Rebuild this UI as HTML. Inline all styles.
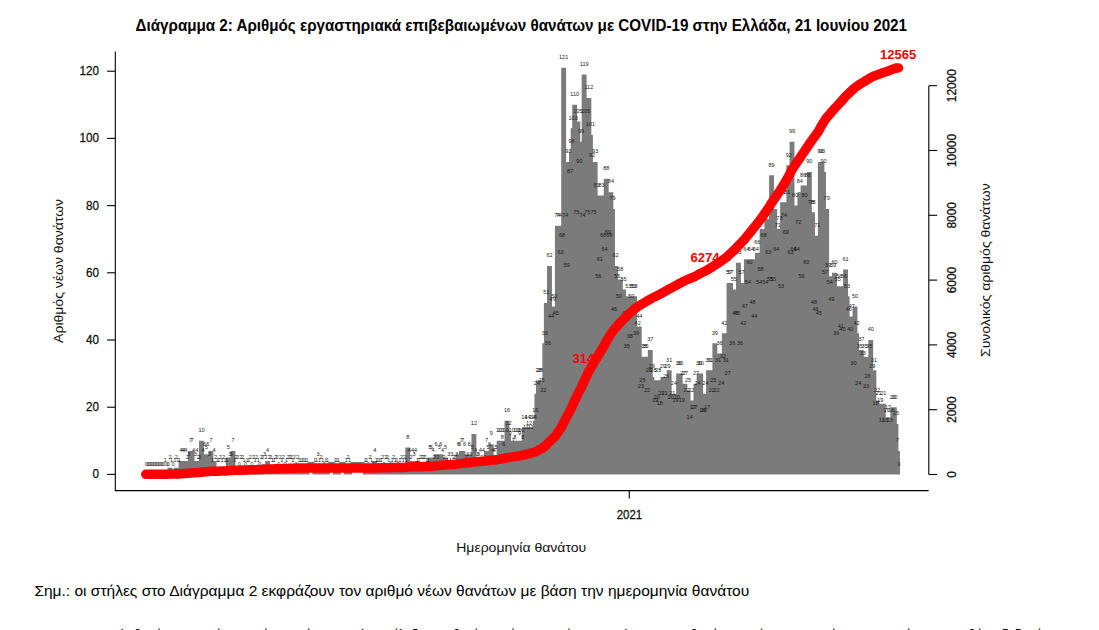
<!DOCTYPE html><html><head><meta charset="utf-8"><title>Διάγραμμα 2</title><style>html,body{margin:0;padding:0;background:#fff;}svg{display:block;}text{font-family:"Liberation Sans", "DejaVu Sans", sans-serif;}</style></head><body><svg width="1099" height="630" viewBox="0 0 1099 630"><rect width="1099" height="630" fill="#fff"/><text x="135.6" y="30.9" font-size="16" font-weight="bold" fill="#000" textLength="771.4" lengthAdjust="spacingAndGlyphs">Διάγραμμα 2: Αριθμός εργαστηριακά επιβεβαιωμένων θανάτων με COVID-19 στην Ελλάδα, 21 Ιουνίου 2021</text><path fill="#7b7b7b" d="M162.80 471.04h4.90v3.36h-4.90zM167.52 467.68h4.90v6.72h-4.90zM169.10 471.04h4.90v3.36h-4.90zM172.25 471.04h4.90v3.36h-4.90zM173.82 467.68h4.90v6.72h-4.90zM175.40 471.04h4.90v3.36h-4.90zM176.97 471.04h4.90v3.36h-4.90zM178.55 460.96h4.90v13.44h-4.90zM180.12 460.96h4.90v13.44h-4.90zM181.69 460.96h4.90v13.44h-4.90zM183.27 460.96h4.90v13.44h-4.90zM184.84 467.68h4.90v6.72h-4.90zM186.42 464.32h4.90v10.08h-4.90zM187.99 450.88h4.90v23.52h-4.90zM189.57 450.88h4.90v23.52h-4.90zM191.14 460.96h4.90v13.44h-4.90zM192.72 464.32h4.90v10.08h-4.90zM194.29 460.96h4.90v13.44h-4.90zM195.87 467.68h4.90v6.72h-4.90zM197.44 467.68h4.90v6.72h-4.90zM199.02 440.80h4.90v33.60h-4.90zM200.59 460.96h4.90v13.44h-4.90zM202.17 454.24h4.90v20.16h-4.90zM203.74 457.60h4.90v16.80h-4.90zM205.32 454.24h4.90v20.16h-4.90zM206.89 464.32h4.90v10.08h-4.90zM208.47 450.88h4.90v23.52h-4.90zM210.04 471.04h4.90v3.36h-4.90zM211.62 460.96h4.90v13.44h-4.90zM213.19 467.68h4.90v6.72h-4.90zM214.77 471.04h4.90v3.36h-4.90zM216.34 471.04h4.90v3.36h-4.90zM217.92 467.68h4.90v6.72h-4.90zM219.49 471.04h4.90v3.36h-4.90zM221.06 467.68h4.90v6.72h-4.90zM222.64 471.04h4.90v3.36h-4.90zM224.21 471.04h4.90v3.36h-4.90zM225.79 457.60h4.90v16.80h-4.90zM227.36 464.32h4.90v10.08h-4.90zM228.94 464.32h4.90v10.08h-4.90zM230.51 450.88h4.90v23.52h-4.90zM232.09 471.04h4.90v3.36h-4.90zM233.66 467.68h4.90v6.72h-4.90zM235.24 467.68h4.90v6.72h-4.90zM238.39 467.68h4.90v6.72h-4.90zM239.96 467.68h4.90v6.72h-4.90zM241.54 471.04h4.90v3.36h-4.90zM244.69 471.04h4.90v3.36h-4.90zM246.26 471.04h4.90v3.36h-4.90zM247.84 467.68h4.90v6.72h-4.90zM250.99 467.68h4.90v6.72h-4.90zM252.56 471.04h4.90v3.36h-4.90zM254.14 467.68h4.90v6.72h-4.90zM255.71 471.04h4.90v3.36h-4.90zM258.86 467.68h4.90v6.72h-4.90zM260.43 467.68h4.90v6.72h-4.90zM262.01 464.32h4.90v10.08h-4.90zM263.58 467.68h4.90v6.72h-4.90zM265.16 460.96h4.90v13.44h-4.90zM266.73 467.68h4.90v6.72h-4.90zM268.31 467.68h4.90v6.72h-4.90zM269.88 471.04h4.90v3.36h-4.90zM271.46 471.04h4.90v3.36h-4.90zM273.03 467.68h4.90v6.72h-4.90zM274.61 467.68h4.90v6.72h-4.90zM277.76 467.68h4.90v6.72h-4.90zM279.33 471.04h4.90v3.36h-4.90zM280.91 467.68h4.90v6.72h-4.90zM284.06 471.04h4.90v3.36h-4.90zM285.63 467.68h4.90v6.72h-4.90zM287.21 467.68h4.90v6.72h-4.90zM288.78 467.68h4.90v6.72h-4.90zM290.36 471.04h4.90v3.36h-4.90zM291.93 467.68h4.90v6.72h-4.90zM295.08 467.68h4.90v6.72h-4.90zM296.65 471.04h4.90v3.36h-4.90zM298.23 471.04h4.90v3.36h-4.90zM299.80 471.04h4.90v3.36h-4.90zM301.38 471.04h4.90v3.36h-4.90zM302.95 471.04h4.90v3.36h-4.90zM304.53 471.04h4.90v3.36h-4.90zM312.40 471.04h4.90v3.36h-4.90zM313.98 471.04h4.90v3.36h-4.90zM315.55 464.32h4.90v10.08h-4.90zM317.13 471.04h4.90v3.36h-4.90zM318.70 467.68h4.90v6.72h-4.90zM320.28 471.04h4.90v3.36h-4.90zM323.43 471.04h4.90v3.36h-4.90zM325.00 471.04h4.90v3.36h-4.90zM332.87 471.04h4.90v3.36h-4.90zM334.45 471.04h4.90v3.36h-4.90zM336.02 471.04h4.90v3.36h-4.90zM343.90 471.04h4.90v3.36h-4.90zM345.47 467.68h4.90v6.72h-4.90zM347.05 471.04h4.90v3.36h-4.90zM362.80 471.04h4.90v3.36h-4.90zM364.37 471.04h4.90v3.36h-4.90zM367.52 467.68h4.90v6.72h-4.90zM369.10 471.04h4.90v3.36h-4.90zM372.24 460.96h4.90v13.44h-4.90zM373.82 471.04h4.90v3.36h-4.90zM375.39 471.04h4.90v3.36h-4.90zM376.97 471.04h4.90v3.36h-4.90zM378.54 471.04h4.90v3.36h-4.90zM380.12 467.68h4.90v6.72h-4.90zM383.27 467.68h4.90v6.72h-4.90zM384.84 467.68h4.90v6.72h-4.90zM386.42 471.04h4.90v3.36h-4.90zM389.57 471.04h4.90v3.36h-4.90zM391.14 467.68h4.90v6.72h-4.90zM392.72 471.04h4.90v3.36h-4.90zM394.29 471.04h4.90v3.36h-4.90zM397.44 471.04h4.90v3.36h-4.90zM399.02 467.68h4.90v6.72h-4.90zM400.59 471.04h4.90v3.36h-4.90zM402.17 467.68h4.90v6.72h-4.90zM403.74 471.04h4.90v3.36h-4.90zM405.32 447.52h4.90v26.88h-4.90zM406.89 460.96h4.90v13.44h-4.90zM408.46 467.68h4.90v6.72h-4.90zM410.04 460.96h4.90v13.44h-4.90zM411.61 464.32h4.90v10.08h-4.90zM413.19 460.96h4.90v13.44h-4.90zM414.76 471.04h4.90v3.36h-4.90zM416.34 471.04h4.90v3.36h-4.90zM417.91 467.68h4.90v6.72h-4.90zM419.49 467.68h4.90v6.72h-4.90zM421.06 467.68h4.90v6.72h-4.90zM422.64 467.68h4.90v6.72h-4.90zM424.21 471.04h4.90v3.36h-4.90zM425.79 471.04h4.90v3.36h-4.90zM427.36 457.60h4.90v16.80h-4.90zM428.94 457.60h4.90v16.80h-4.90zM430.51 460.96h4.90v13.44h-4.90zM432.09 467.68h4.90v6.72h-4.90zM433.66 454.24h4.90v20.16h-4.90zM435.24 467.68h4.90v6.72h-4.90zM436.81 457.60h4.90v16.80h-4.90zM438.39 454.24h4.90v20.16h-4.90zM439.96 460.96h4.90v13.44h-4.90zM441.54 467.68h4.90v6.72h-4.90zM443.11 457.60h4.90v16.80h-4.90zM444.69 471.04h4.90v3.36h-4.90zM446.26 464.32h4.90v10.08h-4.90zM447.83 471.04h4.90v3.36h-4.90zM449.41 464.32h4.90v10.08h-4.90zM450.98 467.68h4.90v6.72h-4.90zM452.56 467.68h4.90v6.72h-4.90zM454.13 464.32h4.90v10.08h-4.90zM455.71 454.24h4.90v20.16h-4.90zM457.28 454.24h4.90v20.16h-4.90zM458.86 450.88h4.90v23.52h-4.90zM460.43 450.88h4.90v23.52h-4.90zM462.01 454.24h4.90v20.16h-4.90zM463.58 467.68h4.90v6.72h-4.90zM465.16 464.32h4.90v10.08h-4.90zM466.73 454.24h4.90v20.16h-4.90zM468.31 464.32h4.90v10.08h-4.90zM469.88 457.60h4.90v16.80h-4.90zM471.46 434.08h4.90v40.32h-4.90zM473.03 460.96h4.90v13.44h-4.90zM474.61 464.32h4.90v10.08h-4.90zM476.18 464.32h4.90v10.08h-4.90zM477.76 460.96h4.90v13.44h-4.90zM479.33 467.68h4.90v6.72h-4.90zM480.91 460.96h4.90v13.44h-4.90zM482.48 467.68h4.90v6.72h-4.90zM484.05 450.88h4.90v23.52h-4.90zM485.63 457.60h4.90v16.80h-4.90zM487.20 454.24h4.90v20.16h-4.90zM488.78 444.16h4.90v30.24h-4.90zM490.35 460.96h4.90v13.44h-4.90zM491.93 460.96h4.90v13.44h-4.90zM493.50 457.60h4.90v16.80h-4.90zM495.08 467.68h4.90v6.72h-4.90zM496.65 440.80h4.90v33.60h-4.90zM498.23 440.80h4.90v33.60h-4.90zM499.80 447.52h4.90v26.88h-4.90zM501.38 454.24h4.90v20.16h-4.90zM502.95 440.80h4.90v33.60h-4.90zM504.53 420.64h4.90v53.76h-4.90zM506.10 434.08h4.90v40.32h-4.90zM507.68 444.16h4.90v30.24h-4.90zM509.25 440.80h4.90v33.60h-4.90zM510.83 450.88h4.90v23.52h-4.90zM512.40 447.52h4.90v26.88h-4.90zM513.98 440.80h4.90v33.60h-4.90zM515.55 440.80h4.90v33.60h-4.90zM517.13 444.16h4.90v30.24h-4.90zM518.70 440.80h4.90v33.60h-4.90zM520.27 447.52h4.90v26.88h-4.90zM521.85 427.36h4.90v47.04h-4.90zM523.42 437.44h4.90v36.96h-4.90zM525.00 427.36h4.90v47.04h-4.90zM526.57 434.08h4.90v40.32h-4.90zM528.15 437.44h4.90v36.96h-4.90zM529.72 427.36h4.90v47.04h-4.90zM531.30 427.36h4.90v47.04h-4.90zM532.87 420.64h4.90v53.76h-4.90zM534.45 393.76h4.90v80.64h-4.90zM536.02 380.32h4.90v94.08h-4.90zM537.60 380.32h4.90v94.08h-4.90zM539.17 390.40h4.90v84.00h-4.90zM540.75 400.48h4.90v73.92h-4.90zM542.32 343.36h4.90v131.04h-4.90zM543.90 303.04h4.90v171.36h-4.90zM545.47 353.44h4.90v120.96h-4.90zM547.05 266.08h4.90v208.32h-4.90zM548.62 326.56h4.90v147.84h-4.90zM550.20 309.76h4.90v164.64h-4.90zM551.77 306.40h4.90v168.00h-4.90zM553.35 323.20h4.90v151.20h-4.90zM554.92 225.76h4.90v248.64h-4.90zM556.50 225.76h4.90v248.64h-4.90zM558.07 262.72h4.90v211.68h-4.90zM559.64 245.92h4.90v228.48h-4.90zM561.22 67.84h4.90v406.56h-4.90zM562.79 225.76h4.90v248.64h-4.90zM564.37 276.16h4.90v198.24h-4.90zM565.94 161.92h4.90v312.48h-4.90zM567.52 182.08h4.90v292.32h-4.90zM569.09 151.84h4.90v322.56h-4.90zM570.67 128.32h4.90v346.08h-4.90zM572.24 104.80h4.90v369.60h-4.90zM573.82 222.40h4.90v252.00h-4.90zM575.39 121.60h4.90v352.80h-4.90zM576.97 172.00h4.90v302.40h-4.90zM578.54 141.76h4.90v332.64h-4.90zM580.12 225.76h4.90v248.64h-4.90zM581.69 74.56h4.90v399.84h-4.90zM583.27 121.60h4.90v352.80h-4.90zM584.84 222.40h4.90v252.00h-4.90zM586.42 98.08h4.90v376.32h-4.90zM587.99 135.04h4.90v339.36h-4.90zM589.57 165.28h4.90v309.12h-4.90zM591.14 222.40h4.90v252.00h-4.90zM592.72 161.92h4.90v312.48h-4.90zM594.29 195.52h4.90v278.88h-4.90zM595.86 286.24h4.90v188.16h-4.90zM597.44 269.44h4.90v204.96h-4.90zM599.01 195.52h4.90v278.88h-4.90zM600.59 245.92h4.90v228.48h-4.90zM602.16 259.36h4.90v215.04h-4.90zM603.74 178.72h4.90v295.68h-4.90zM605.31 242.56h4.90v231.84h-4.90zM606.89 245.92h4.90v228.48h-4.90zM608.46 192.16h4.90v282.24h-4.90zM610.04 208.96h4.90v265.44h-4.90zM611.61 319.84h4.90v154.56h-4.90zM613.19 266.08h4.90v208.32h-4.90zM614.76 286.24h4.90v188.16h-4.90zM616.34 306.40h4.90v168.00h-4.90zM617.91 279.52h4.90v194.88h-4.90zM619.49 329.92h4.90v144.48h-4.90zM621.06 289.60h4.90v184.80h-4.90zM622.64 323.20h4.90v151.20h-4.90zM624.21 356.80h4.90v117.60h-4.90zM625.79 296.32h4.90v178.08h-4.90zM627.36 346.72h4.90v127.68h-4.90zM628.94 306.40h4.90v168.00h-4.90zM630.51 296.32h4.90v178.08h-4.90zM632.09 296.32h4.90v178.08h-4.90zM633.66 343.36h4.90v131.04h-4.90zM635.23 333.28h4.90v141.12h-4.90zM636.81 326.56h4.90v147.84h-4.90zM638.38 397.12h4.90v77.28h-4.90zM639.96 390.40h4.90v84.00h-4.90zM641.53 356.80h4.90v117.60h-4.90zM643.11 356.80h4.90v117.60h-4.90zM644.68 400.48h4.90v73.92h-4.90zM646.26 380.32h4.90v94.08h-4.90zM647.83 350.08h4.90v124.32h-4.90zM649.41 376.96h4.90v97.44h-4.90zM650.98 380.32h4.90v94.08h-4.90zM652.56 410.56h4.90v63.84h-4.90zM654.13 407.20h4.90v67.20h-4.90zM655.71 380.32h4.90v94.08h-4.90zM657.28 413.92h4.90v60.48h-4.90zM658.86 403.84h4.90v70.56h-4.90zM660.43 376.96h4.90v97.44h-4.90zM662.01 403.84h4.90v70.56h-4.90zM663.58 387.04h4.90v87.36h-4.90zM665.16 376.96h4.90v97.44h-4.90zM666.73 370.24h4.90v104.16h-4.90zM668.31 407.20h4.90v67.20h-4.90zM669.88 403.84h4.90v70.56h-4.90zM671.45 393.76h4.90v80.64h-4.90zM673.03 410.56h4.90v63.84h-4.90zM674.60 407.20h4.90v67.20h-4.90zM676.18 373.60h4.90v100.80h-4.90zM677.75 373.60h4.90v100.80h-4.90zM679.33 410.56h4.90v63.84h-4.90zM680.90 383.68h4.90v90.72h-4.90zM682.48 383.68h4.90v90.72h-4.90zM684.05 400.48h4.90v73.92h-4.90zM685.63 390.40h4.90v84.00h-4.90zM687.20 427.36h4.90v47.04h-4.90zM688.78 400.48h4.90v73.92h-4.90zM690.35 417.28h4.90v57.12h-4.90zM691.93 417.28h4.90v57.12h-4.90zM693.50 383.68h4.90v90.72h-4.90zM695.08 393.76h4.90v80.64h-4.90zM696.65 373.60h4.90v100.80h-4.90zM698.23 373.60h4.90v100.80h-4.90zM699.80 420.64h4.90v53.76h-4.90zM701.38 420.64h4.90v53.76h-4.90zM702.95 393.76h4.90v80.64h-4.90zM704.53 417.28h4.90v57.12h-4.90zM706.10 370.24h4.90v104.16h-4.90zM707.68 370.24h4.90v104.16h-4.90zM709.25 400.48h4.90v73.92h-4.90zM710.82 390.40h4.90v84.00h-4.90zM712.40 343.36h4.90v131.04h-4.90zM713.97 400.48h4.90v73.92h-4.90zM715.55 370.24h4.90v104.16h-4.90zM717.12 353.44h4.90v120.96h-4.90zM718.70 393.76h4.90v80.64h-4.90zM720.27 366.88h4.90v107.52h-4.90zM721.85 333.28h4.90v141.12h-4.90zM723.42 370.24h4.90v104.16h-4.90zM725.00 383.68h4.90v90.72h-4.90zM726.57 282.88h4.90v191.52h-4.90zM728.15 282.88h4.90v191.52h-4.90zM729.72 353.44h4.90v120.96h-4.90zM731.30 289.60h4.90v184.80h-4.90zM732.87 323.20h4.90v151.20h-4.90zM734.45 323.20h4.90v151.20h-4.90zM736.02 262.72h4.90v211.68h-4.90zM737.60 353.44h4.90v120.96h-4.90zM739.17 282.88h4.90v191.52h-4.90zM740.75 333.28h4.90v141.12h-4.90zM742.32 316.48h4.90v157.92h-4.90zM743.90 259.36h4.90v215.04h-4.90zM745.47 292.96h4.90v181.44h-4.90zM747.04 272.80h4.90v201.60h-4.90zM748.62 259.36h4.90v215.04h-4.90zM750.19 313.12h4.90v161.28h-4.90zM751.77 326.56h4.90v147.84h-4.90zM753.34 259.36h4.90v215.04h-4.90zM754.92 252.64h4.90v221.76h-4.90zM756.49 292.96h4.90v181.44h-4.90zM758.07 279.52h4.90v194.88h-4.90zM759.64 229.12h4.90v245.28h-4.90zM761.22 245.92h4.90v228.48h-4.90zM762.79 292.96h4.90v181.44h-4.90zM764.37 219.04h4.90v255.36h-4.90zM765.94 262.72h4.90v211.68h-4.90zM767.52 289.60h4.90v184.80h-4.90zM769.09 175.36h4.90v299.04h-4.90zM770.67 289.60h4.90v184.80h-4.90zM772.24 208.96h4.90v265.44h-4.90zM773.82 259.36h4.90v215.04h-4.90zM775.39 235.84h4.90v238.56h-4.90zM776.97 229.12h4.90v245.28h-4.90zM778.54 296.32h4.90v178.08h-4.90zM780.12 202.24h4.90v272.16h-4.90zM781.69 225.76h4.90v248.64h-4.90zM783.27 242.56h4.90v231.84h-4.90zM784.84 202.24h4.90v272.16h-4.90zM786.41 165.28h4.90v309.12h-4.90zM787.99 262.72h4.90v211.68h-4.90zM789.56 141.76h4.90v332.64h-4.90zM791.14 259.36h4.90v215.04h-4.90zM792.71 205.60h4.90v268.80h-4.90zM794.29 259.36h4.90v215.04h-4.90zM795.86 232.48h4.90v241.92h-4.90zM797.44 192.16h4.90v282.24h-4.90zM799.01 286.24h4.90v188.16h-4.90zM800.59 185.44h4.90v288.96h-4.90zM802.16 205.60h4.90v268.80h-4.90zM803.74 272.80h4.90v201.60h-4.90zM805.31 185.44h4.90v288.96h-4.90zM806.89 172.00h4.90v302.40h-4.90zM808.46 212.32h4.90v262.08h-4.90zM810.04 212.32h4.90v262.08h-4.90zM811.61 313.12h4.90v161.28h-4.90zM813.19 319.84h4.90v154.56h-4.90zM814.76 235.84h4.90v238.56h-4.90zM816.34 323.20h4.90v151.20h-4.90zM817.91 161.92h4.90v312.48h-4.90zM819.49 161.92h4.90v312.48h-4.90zM821.06 172.00h4.90v302.40h-4.90zM822.63 282.88h4.90v191.52h-4.90zM824.21 208.96h4.90v265.44h-4.90zM825.78 276.16h4.90v198.24h-4.90zM827.36 292.96h4.90v181.44h-4.90zM828.93 309.76h4.90v164.64h-4.90zM830.51 276.16h4.90v198.24h-4.90zM832.08 272.80h4.90v201.60h-4.90zM833.66 343.36h4.90v131.04h-4.90zM835.23 289.60h4.90v184.80h-4.90zM836.81 286.24h4.90v188.16h-4.90zM838.38 336.64h4.90v137.76h-4.90zM839.96 340.00h4.90v134.40h-4.90zM841.53 286.24h4.90v188.16h-4.90zM843.11 269.44h4.90v204.96h-4.90zM844.68 296.32h4.90v178.08h-4.90zM846.26 319.84h4.90v154.56h-4.90zM847.83 340.00h4.90v134.40h-4.90zM849.41 316.48h4.90v157.92h-4.90zM850.98 373.60h4.90v100.80h-4.90zM852.56 306.40h4.90v168.00h-4.90zM854.13 333.28h4.90v141.12h-4.90zM855.71 393.76h4.90v80.64h-4.90zM857.28 356.80h4.90v117.60h-4.90zM858.86 350.08h4.90v124.32h-4.90zM860.43 363.52h4.90v110.88h-4.90zM862.00 356.80h4.90v117.60h-4.90zM863.58 397.12h4.90v77.28h-4.90zM865.15 387.04h4.90v87.36h-4.90zM866.73 356.80h4.90v117.60h-4.90zM868.30 340.00h4.90v134.40h-4.90zM869.88 376.96h4.90v97.44h-4.90zM871.45 370.24h4.90v104.16h-4.90zM873.03 413.92h4.90v60.48h-4.90zM874.60 400.48h4.90v73.92h-4.90zM876.18 403.84h4.90v70.56h-4.90zM877.75 410.56h4.90v63.84h-4.90zM879.33 430.72h4.90v43.68h-4.90zM880.90 403.84h4.90v70.56h-4.90zM882.48 430.72h4.90v43.68h-4.90zM884.05 420.64h4.90v53.76h-4.90zM885.63 417.28h4.90v57.12h-4.90zM887.20 430.72h4.90v43.68h-4.90zM888.78 420.64h4.90v53.76h-4.90zM890.35 407.20h4.90v67.20h-4.90zM891.93 407.20h4.90v67.20h-4.90zM893.50 424.00h4.90v50.40h-4.90zM895.08 450.88h4.90v23.52h-4.90z"/><g font-size="5.5" fill="#1a1a1a" text-anchor="middle"><text x="146.35" y="465.70">0</text><text x="147.92" y="465.70">0</text><text x="149.50" y="465.70">0</text><text x="151.07" y="465.70">0</text><text x="152.65" y="465.70">0</text><text x="154.22" y="465.70">0</text><text x="155.80" y="465.70">0</text><text x="157.37" y="465.70">0</text><text x="158.95" y="465.70">0</text><text x="160.52" y="465.70">0</text><text x="162.10" y="465.70">0</text><text x="163.67" y="465.70">0</text><text x="165.25" y="462.34">1</text><text x="166.82" y="465.70">0</text><text x="168.40" y="465.70">0</text><text x="169.97" y="458.98">2</text><text x="171.55" y="462.34">1</text><text x="173.12" y="465.70">0</text><text x="174.70" y="462.34">1</text><text x="176.27" y="458.98">2</text><text x="177.85" y="462.34">1</text><text x="179.42" y="462.34">1</text><text x="181.00" y="452.26">4</text><text x="182.57" y="452.26">4</text><text x="184.14" y="452.26">4</text><text x="185.72" y="452.26">4</text><text x="187.29" y="458.98">2</text><text x="188.87" y="455.62">3</text><text x="190.44" y="442.18">7</text><text x="192.02" y="442.18">7</text><text x="193.59" y="452.26">4</text><text x="195.17" y="455.62">3</text><text x="196.74" y="452.26">4</text><text x="198.32" y="458.98">2</text><text x="199.89" y="458.98">2</text><text x="201.47" y="432.10">10</text><text x="203.04" y="452.26">4</text><text x="204.62" y="445.54">6</text><text x="206.19" y="448.90">5</text><text x="207.77" y="445.54">6</text><text x="209.34" y="455.62">3</text><text x="210.92" y="442.18">7</text><text x="212.49" y="462.34">1</text><text x="214.07" y="452.26">4</text><text x="215.64" y="458.98">2</text><text x="217.22" y="462.34">1</text><text x="218.79" y="462.34">1</text><text x="220.37" y="458.98">2</text><text x="221.94" y="462.34">1</text><text x="223.51" y="458.98">2</text><text x="225.09" y="462.34">1</text><text x="226.66" y="462.34">1</text><text x="228.24" y="448.90">5</text><text x="229.81" y="455.62">3</text><text x="231.39" y="455.62">3</text><text x="232.96" y="442.18">7</text><text x="234.54" y="462.34">1</text><text x="236.11" y="458.98">2</text><text x="237.69" y="458.98">2</text><text x="239.26" y="465.70">0</text><text x="240.84" y="458.98">2</text><text x="242.41" y="458.98">2</text><text x="243.99" y="462.34">1</text><text x="245.56" y="465.70">0</text><text x="247.14" y="462.34">1</text><text x="248.71" y="462.34">1</text><text x="250.29" y="458.98">2</text><text x="251.86" y="465.70">0</text><text x="253.44" y="458.98">2</text><text x="255.01" y="462.34">1</text><text x="256.59" y="458.98">2</text><text x="258.16" y="462.34">1</text><text x="259.73" y="465.70">0</text><text x="261.31" y="458.98">2</text><text x="262.88" y="458.98">2</text><text x="264.46" y="455.62">3</text><text x="266.03" y="458.98">2</text><text x="267.61" y="452.26">4</text><text x="269.18" y="458.98">2</text><text x="270.76" y="458.98">2</text><text x="272.33" y="462.34">1</text><text x="273.91" y="462.34">1</text><text x="275.48" y="458.98">2</text><text x="277.06" y="458.98">2</text><text x="278.63" y="465.70">0</text><text x="280.21" y="458.98">2</text><text x="281.78" y="462.34">1</text><text x="283.36" y="458.98">2</text><text x="284.93" y="465.70">0</text><text x="286.51" y="462.34">1</text><text x="288.08" y="458.98">2</text><text x="289.66" y="458.98">2</text><text x="291.23" y="458.98">2</text><text x="292.81" y="462.34">1</text><text x="294.38" y="458.98">2</text><text x="295.96" y="465.70">0</text><text x="297.53" y="458.98">2</text><text x="299.10" y="462.34">1</text><text x="300.68" y="462.34">1</text><text x="302.25" y="462.34">1</text><text x="303.83" y="462.34">1</text><text x="305.40" y="462.34">1</text><text x="306.98" y="462.34">1</text><text x="308.55" y="465.70">0</text><text x="310.13" y="465.70">0</text><text x="311.70" y="465.70">0</text><text x="313.28" y="465.70">0</text><text x="314.85" y="462.34">1</text><text x="316.43" y="462.34">1</text><text x="318.00" y="455.62">3</text><text x="319.58" y="462.34">1</text><text x="321.15" y="458.98">2</text><text x="322.73" y="462.34">1</text><text x="324.30" y="465.70">0</text><text x="325.88" y="462.34">1</text><text x="327.45" y="462.34">1</text><text x="329.03" y="465.70">0</text><text x="330.60" y="465.70">0</text><text x="332.18" y="465.70">0</text><text x="333.75" y="465.70">0</text><text x="335.32" y="462.34">1</text><text x="336.90" y="462.34">1</text><text x="338.47" y="462.34">1</text><text x="340.05" y="465.70">0</text><text x="341.62" y="465.70">0</text><text x="343.20" y="465.70">0</text><text x="344.77" y="465.70">0</text><text x="346.35" y="462.34">1</text><text x="347.92" y="458.98">2</text><text x="349.50" y="462.34">1</text><text x="351.07" y="465.70">0</text><text x="352.65" y="465.70">0</text><text x="354.22" y="465.70">0</text><text x="355.80" y="465.70">0</text><text x="357.37" y="465.70">0</text><text x="358.95" y="465.70">0</text><text x="360.52" y="465.70">0</text><text x="362.10" y="465.70">0</text><text x="363.67" y="465.70">0</text><text x="365.25" y="462.34">1</text><text x="366.82" y="462.34">1</text><text x="368.40" y="465.70">0</text><text x="369.97" y="458.98">2</text><text x="371.55" y="462.34">1</text><text x="373.12" y="465.70">0</text><text x="374.69" y="452.26">4</text><text x="376.27" y="462.34">1</text><text x="377.84" y="462.34">1</text><text x="379.42" y="462.34">1</text><text x="380.99" y="462.34">1</text><text x="382.57" y="458.98">2</text><text x="384.14" y="465.70">0</text><text x="385.72" y="458.98">2</text><text x="387.29" y="458.98">2</text><text x="388.87" y="462.34">1</text><text x="390.44" y="465.70">0</text><text x="392.02" y="462.34">1</text><text x="393.59" y="458.98">2</text><text x="395.17" y="462.34">1</text><text x="396.74" y="462.34">1</text><text x="398.32" y="465.70">0</text><text x="399.89" y="462.34">1</text><text x="401.47" y="458.98">2</text><text x="403.04" y="462.34">1</text><text x="404.62" y="458.98">2</text><text x="406.19" y="462.34">1</text><text x="407.77" y="438.82">8</text><text x="409.34" y="452.26">4</text><text x="410.91" y="458.98">2</text><text x="412.49" y="452.26">4</text><text x="414.06" y="455.62">3</text><text x="415.64" y="452.26">4</text><text x="417.21" y="462.34">1</text><text x="418.79" y="462.34">1</text><text x="420.36" y="458.98">2</text><text x="421.94" y="458.98">2</text><text x="423.51" y="458.98">2</text><text x="425.09" y="458.98">2</text><text x="426.66" y="462.34">1</text><text x="428.24" y="462.34">1</text><text x="429.81" y="448.90">5</text><text x="431.39" y="448.90">5</text><text x="432.96" y="452.26">4</text><text x="434.54" y="458.98">2</text><text x="436.11" y="445.54">6</text><text x="437.69" y="458.98">2</text><text x="439.26" y="448.90">5</text><text x="440.84" y="445.54">6</text><text x="442.41" y="452.26">4</text><text x="443.99" y="458.98">2</text><text x="445.56" y="448.90">5</text><text x="447.14" y="462.34">1</text><text x="448.71" y="455.62">3</text><text x="450.28" y="462.34">1</text><text x="451.86" y="455.62">3</text><text x="453.43" y="458.98">2</text><text x="455.01" y="458.98">2</text><text x="456.58" y="455.62">3</text><text x="458.16" y="445.54">6</text><text x="459.73" y="445.54">6</text><text x="461.31" y="442.18">7</text><text x="462.88" y="442.18">7</text><text x="464.46" y="445.54">6</text><text x="466.03" y="458.98">2</text><text x="467.61" y="455.62">3</text><text x="469.18" y="445.54">6</text><text x="470.76" y="455.62">3</text><text x="472.33" y="448.90">5</text><text x="473.91" y="425.38">12</text><text x="475.48" y="452.26">4</text><text x="477.06" y="455.62">3</text><text x="478.63" y="455.62">3</text><text x="480.21" y="452.26">4</text><text x="481.78" y="458.98">2</text><text x="483.36" y="452.26">4</text><text x="484.93" y="458.98">2</text><text x="486.50" y="442.18">7</text><text x="488.08" y="448.90">5</text><text x="489.65" y="445.54">6</text><text x="491.23" y="435.46">9</text><text x="492.80" y="452.26">4</text><text x="494.38" y="452.26">4</text><text x="495.95" y="448.90">5</text><text x="497.53" y="458.98">2</text><text x="499.10" y="432.10">10</text><text x="500.68" y="432.10">10</text><text x="502.25" y="438.82">8</text><text x="503.83" y="445.54">6</text><text x="505.40" y="432.10">10</text><text x="506.98" y="411.94">16</text><text x="508.55" y="425.38">12</text><text x="510.13" y="435.46">9</text><text x="511.70" y="432.10">10</text><text x="513.28" y="442.18">7</text><text x="514.85" y="438.82">8</text><text x="516.43" y="432.10">10</text><text x="518.00" y="432.10">10</text><text x="519.58" y="435.46">9</text><text x="521.15" y="432.10">10</text><text x="522.73" y="438.82">8</text><text x="524.30" y="418.66">14</text><text x="525.87" y="428.74">11</text><text x="527.45" y="418.66">14</text><text x="529.02" y="425.38">12</text><text x="530.60" y="428.74">11</text><text x="532.17" y="418.66">14</text><text x="533.75" y="418.66">14</text><text x="535.32" y="411.94">16</text><text x="536.90" y="385.06">24</text><text x="538.47" y="371.62">28</text><text x="540.05" y="371.62">28</text><text x="541.62" y="381.70">25</text><text x="543.20" y="391.78">22</text><text x="544.77" y="334.66">39</text><text x="546.35" y="294.34">51</text><text x="547.92" y="344.74">36</text><text x="549.50" y="257.38">62</text><text x="551.07" y="317.86">44</text><text x="552.65" y="301.06">49</text><text x="554.22" y="297.70">50</text><text x="555.80" y="314.50">45</text><text x="557.37" y="217.06">74</text><text x="558.95" y="217.06">74</text><text x="560.52" y="254.02">63</text><text x="562.09" y="237.22">68</text><text x="563.67" y="59.14">121</text><text x="565.24" y="217.06">74</text><text x="566.82" y="267.46">59</text><text x="568.39" y="153.22">93</text><text x="569.97" y="173.38">87</text><text x="571.54" y="143.14">96</text><text x="573.12" y="119.62">103</text><text x="574.69" y="96.10">110</text><text x="576.27" y="213.70">75</text><text x="577.84" y="112.90">105</text><text x="579.42" y="163.30">90</text><text x="580.99" y="133.06">99</text><text x="582.57" y="217.06">74</text><text x="584.14" y="65.86">119</text><text x="585.72" y="112.90">105</text><text x="587.29" y="213.70">75</text><text x="588.87" y="89.38">112</text><text x="590.44" y="126.34">101</text><text x="592.02" y="156.58">92</text><text x="593.59" y="213.70">75</text><text x="595.17" y="153.22">93</text><text x="596.74" y="186.82">83</text><text x="598.31" y="277.54">56</text><text x="599.89" y="260.74">61</text><text x="601.46" y="186.82">83</text><text x="603.04" y="237.22">68</text><text x="604.61" y="250.66">64</text><text x="606.19" y="170.02">88</text><text x="607.76" y="233.86">69</text><text x="609.34" y="237.22">68</text><text x="610.91" y="183.46">84</text><text x="612.49" y="200.26">79</text><text x="614.06" y="311.14">46</text><text x="615.64" y="257.38">62</text><text x="617.21" y="277.54">56</text><text x="618.79" y="297.70">50</text><text x="620.36" y="270.82">58</text><text x="621.94" y="321.22">43</text><text x="623.51" y="280.90">55</text><text x="625.09" y="314.50">45</text><text x="626.66" y="348.10">35</text><text x="628.24" y="287.62">53</text><text x="629.81" y="338.02">38</text><text x="631.39" y="297.70">50</text><text x="632.96" y="287.62">53</text><text x="634.54" y="287.62">53</text><text x="636.11" y="334.66">39</text><text x="637.68" y="324.58">42</text><text x="639.26" y="317.86">44</text><text x="640.83" y="388.42">23</text><text x="642.41" y="381.70">25</text><text x="643.98" y="348.10">35</text><text x="645.56" y="348.10">35</text><text x="647.13" y="391.78">22</text><text x="648.71" y="371.62">28</text><text x="650.28" y="341.38">37</text><text x="651.86" y="368.26">29</text><text x="653.43" y="371.62">28</text><text x="655.01" y="401.86">19</text><text x="656.58" y="398.50">20</text><text x="658.16" y="371.62">28</text><text x="659.73" y="405.22">18</text><text x="661.31" y="395.14">21</text><text x="662.88" y="368.26">29</text><text x="664.46" y="395.14">21</text><text x="666.03" y="378.34">26</text><text x="667.61" y="368.26">29</text><text x="669.18" y="361.54">31</text><text x="670.76" y="398.50">20</text><text x="672.33" y="395.14">21</text><text x="673.90" y="385.06">24</text><text x="675.48" y="401.86">19</text><text x="677.05" y="398.50">20</text><text x="678.63" y="364.90">30</text><text x="680.20" y="364.90">30</text><text x="681.78" y="401.86">19</text><text x="683.35" y="374.98">27</text><text x="684.93" y="374.98">27</text><text x="686.50" y="391.78">22</text><text x="688.08" y="381.70">25</text><text x="689.65" y="418.66">14</text><text x="691.23" y="391.78">22</text><text x="692.80" y="408.58">17</text><text x="694.38" y="408.58">17</text><text x="695.95" y="374.98">27</text><text x="697.53" y="385.06">24</text><text x="699.10" y="364.90">30</text><text x="700.68" y="364.90">30</text><text x="702.25" y="411.94">16</text><text x="703.83" y="411.94">16</text><text x="705.40" y="385.06">24</text><text x="706.98" y="408.58">17</text><text x="708.55" y="361.54">31</text><text x="710.13" y="361.54">31</text><text x="711.70" y="391.78">22</text><text x="713.27" y="381.70">25</text><text x="714.85" y="334.66">39</text><text x="716.42" y="391.78">22</text><text x="718.00" y="361.54">31</text><text x="719.57" y="344.74">36</text><text x="721.15" y="385.06">24</text><text x="722.72" y="358.18">32</text><text x="724.30" y="324.58">42</text><text x="725.87" y="361.54">31</text><text x="727.45" y="374.98">27</text><text x="729.02" y="274.18">57</text><text x="730.60" y="274.18">57</text><text x="732.17" y="344.74">36</text><text x="733.75" y="280.90">55</text><text x="735.32" y="314.50">45</text><text x="736.90" y="314.50">45</text><text x="738.47" y="254.02">63</text><text x="740.05" y="344.74">36</text><text x="741.62" y="274.18">57</text><text x="743.20" y="324.58">42</text><text x="744.77" y="307.78">47</text><text x="746.35" y="250.66">64</text><text x="747.92" y="284.26">54</text><text x="749.49" y="264.10">60</text><text x="751.07" y="250.66">64</text><text x="752.64" y="304.42">48</text><text x="754.22" y="317.86">44</text><text x="755.79" y="250.66">64</text><text x="757.37" y="243.94">66</text><text x="758.94" y="284.26">54</text><text x="760.52" y="270.82">58</text><text x="762.09" y="220.42">73</text><text x="763.67" y="237.22">68</text><text x="765.24" y="284.26">54</text><text x="766.82" y="210.34">76</text><text x="768.39" y="254.02">63</text><text x="769.97" y="280.90">55</text><text x="771.54" y="166.66">89</text><text x="773.12" y="280.90">55</text><text x="774.69" y="200.26">79</text><text x="776.27" y="250.66">64</text><text x="777.84" y="227.14">71</text><text x="779.42" y="220.42">73</text><text x="780.99" y="287.62">53</text><text x="782.57" y="193.54">81</text><text x="784.14" y="217.06">74</text><text x="785.72" y="233.86">69</text><text x="787.29" y="193.54">81</text><text x="788.86" y="156.58">92</text><text x="790.44" y="254.02">63</text><text x="792.01" y="133.06">99</text><text x="793.59" y="250.66">64</text><text x="795.16" y="196.90">80</text><text x="796.74" y="250.66">64</text><text x="798.31" y="223.78">72</text><text x="799.89" y="183.46">84</text><text x="801.46" y="277.54">56</text><text x="803.04" y="176.74">86</text><text x="804.61" y="196.90">80</text><text x="806.19" y="264.10">60</text><text x="807.76" y="176.74">86</text><text x="809.34" y="163.30">90</text><text x="810.91" y="203.62">78</text><text x="812.49" y="203.62">78</text><text x="814.06" y="304.42">48</text><text x="815.64" y="311.14">46</text><text x="817.21" y="227.14">71</text><text x="818.79" y="314.50">45</text><text x="820.36" y="153.22">93</text><text x="821.94" y="153.22">93</text><text x="823.51" y="163.30">90</text><text x="825.08" y="274.18">57</text><text x="826.66" y="200.26">79</text><text x="828.23" y="267.46">59</text><text x="829.81" y="284.26">54</text><text x="831.38" y="301.06">49</text><text x="832.96" y="267.46">59</text><text x="834.53" y="264.10">60</text><text x="836.11" y="334.66">39</text><text x="837.68" y="280.90">55</text><text x="839.26" y="277.54">56</text><text x="840.83" y="327.94">41</text><text x="842.41" y="331.30">40</text><text x="843.98" y="277.54">56</text><text x="845.56" y="260.74">61</text><text x="847.13" y="287.62">53</text><text x="848.71" y="311.14">46</text><text x="850.28" y="331.30">40</text><text x="851.86" y="307.78">47</text><text x="853.43" y="364.90">30</text><text x="855.01" y="297.70">50</text><text x="856.58" y="324.58">42</text><text x="858.16" y="385.06">24</text><text x="859.73" y="348.10">35</text><text x="861.31" y="341.38">37</text><text x="862.88" y="354.82">33</text><text x="864.45" y="348.10">35</text><text x="866.03" y="388.42">23</text><text x="867.60" y="378.34">26</text><text x="869.18" y="348.10">35</text><text x="870.75" y="331.30">40</text><text x="872.33" y="368.26">29</text><text x="873.90" y="361.54">31</text><text x="875.48" y="405.22">18</text><text x="877.05" y="391.78">22</text><text x="878.63" y="395.14">21</text><text x="880.20" y="401.86">19</text><text x="881.78" y="422.02">13</text><text x="883.35" y="395.14">21</text><text x="884.93" y="422.02">13</text><text x="886.50" y="411.94">16</text><text x="888.08" y="408.58">17</text><text x="889.65" y="422.02">13</text><text x="891.23" y="411.94">16</text><text x="892.80" y="398.50">20</text><text x="894.38" y="398.50">20</text><text x="895.95" y="415.30">15</text><text x="897.53" y="442.18">7</text><text x="899.10" y="465.70">0</text></g><g stroke="#000" stroke-width="1.1" fill="none"><path d="M115.3 51.4 V490.6 H928.6"/><path d="M107.1 474.40 H115.3"/><path d="M107.1 407.20 H115.3"/><path d="M107.1 340.00 H115.3"/><path d="M107.1 272.80 H115.3"/><path d="M107.1 205.60 H115.3"/><path d="M107.1 138.40 H115.3"/><path d="M107.1 71.20 H115.3"/><path d="M928.8 85.7 V474.5"/><path d="M928.8 474.50 H937.1"/><path d="M928.8 409.70 H937.1"/><path d="M928.8 344.90 H937.1"/><path d="M928.8 280.10 H937.1"/><path d="M928.8 215.30 H937.1"/><path d="M928.8 150.50 H937.1"/><path d="M928.8 85.70 H937.1"/><path d="M629.3 490.6 V498.6"/></g><g font-size="13" fill="#111"><text x="92.40" y="478.30" textLength="6.50" lengthAdjust="spacingAndGlyphs" stroke="#111" stroke-width="0.3">0</text><text x="85.90" y="411.10" textLength="13.00" lengthAdjust="spacingAndGlyphs" stroke="#111" stroke-width="0.3">20</text><text x="85.90" y="343.90" textLength="13.00" lengthAdjust="spacingAndGlyphs" stroke="#111" stroke-width="0.3">40</text><text x="85.90" y="276.70" textLength="13.00" lengthAdjust="spacingAndGlyphs" stroke="#111" stroke-width="0.3">60</text><text x="85.90" y="209.50" textLength="13.00" lengthAdjust="spacingAndGlyphs" stroke="#111" stroke-width="0.3">80</text><text x="79.40" y="142.30" textLength="19.50" lengthAdjust="spacingAndGlyphs" stroke="#111" stroke-width="0.3">100</text><text x="79.40" y="75.10" textLength="19.50" lengthAdjust="spacingAndGlyphs" stroke="#111" stroke-width="0.3">120</text><text transform="translate(956 474.50) rotate(-90)" x="-3.30" textLength="6.60" lengthAdjust="spacingAndGlyphs" stroke="#111" stroke-width="0.3">0</text><text transform="translate(956 409.70) rotate(-90)" x="-13.20" textLength="26.40" lengthAdjust="spacingAndGlyphs" stroke="#111" stroke-width="0.3">2000</text><text transform="translate(956 344.90) rotate(-90)" x="-13.20" textLength="26.40" lengthAdjust="spacingAndGlyphs" stroke="#111" stroke-width="0.3">4000</text><text transform="translate(956 280.10) rotate(-90)" x="-13.20" textLength="26.40" lengthAdjust="spacingAndGlyphs" stroke="#111" stroke-width="0.3">6000</text><text transform="translate(956 215.30) rotate(-90)" x="-13.20" textLength="26.40" lengthAdjust="spacingAndGlyphs" stroke="#111" stroke-width="0.3">8000</text><text transform="translate(956 150.50) rotate(-90)" x="-16.50" textLength="33.00" lengthAdjust="spacingAndGlyphs" stroke="#111" stroke-width="0.3">10000</text><text transform="translate(956 85.70) rotate(-90)" x="-16.50" textLength="33.00" lengthAdjust="spacingAndGlyphs" stroke="#111" stroke-width="0.3">12000</text><text x="616.7" y="519.3" textLength="25.5" lengthAdjust="spacingAndGlyphs" stroke="#111" stroke-width="0.3">2021</text><text x="456.2" y="551.7" textLength="130" lengthAdjust="spacingAndGlyphs">Ημερομηνία θανάτου</text><text transform="translate(62.6 342.9) rotate(-90)" textLength="144" lengthAdjust="spacingAndGlyphs">Αριθμός νέων θανάτων</text><text transform="translate(990 357) rotate(-90)" textLength="173.7" lengthAdjust="spacingAndGlyphs">Συνολικός αριθμός θανάτων</text></g><g font-size="13" font-weight="bold" fill="#ff0000" text-anchor="middle"><text x="587" y="363">3140</text><text x="705" y="262">6274</text><text x="898.2" y="58.9">12565</text></g><path d="M145.75 474.37 L147.32 474.37 L148.90 474.36 L150.47 474.35 L152.05 474.34 L153.62 474.33 L155.20 474.32 L156.77 474.31 L158.35 474.29 L159.92 474.28 L161.50 474.27 L163.07 474.26 L164.65 474.24 L166.22 474.23 L167.80 474.19 L169.37 474.12 L170.95 474.08 L172.52 474.03 L174.10 474.00 L175.67 473.96 L177.25 473.92 L178.82 473.89 L180.40 473.77 L181.97 473.66 L183.54 473.55 L185.12 473.44 L186.69 473.34 L188.27 473.24 L189.84 473.06 L191.42 472.89 L192.99 472.80 L194.57 472.72 L196.14 472.64 L197.72 472.56 L199.29 472.48 L200.87 472.23 L202.44 472.09 L204.02 471.96 L205.59 471.82 L207.17 471.68 L208.74 471.54 L210.32 471.37 L211.89 471.29 L213.47 471.21 L215.04 471.18 L216.62 471.16 L218.19 471.13 L219.77 471.10 L221.34 471.07 L222.91 471.04 L224.49 471.00 L226.06 470.97 L227.64 470.84 L229.21 470.71 L230.79 470.58 L232.36 470.39 L233.94 470.35 L235.51 470.31 L237.09 470.26 L238.66 470.21 L240.24 470.16 L241.81 470.11 L243.39 470.06 L244.96 470.01 L246.54 469.96 L248.11 469.91 L249.69 469.85 L251.26 469.80 L252.84 469.74 L254.41 469.69 L255.99 469.63 L257.56 469.57 L259.13 469.52 L260.71 469.46 L262.28 469.41 L263.86 469.32 L265.43 469.23 L267.01 469.12 L268.58 469.06 L270.16 469.01 L271.73 468.95 L273.31 468.89 L274.88 468.84 L276.46 468.78 L278.03 468.73 L279.61 468.67 L281.18 468.61 L282.76 468.56 L284.33 468.50 L285.91 468.45 L287.48 468.39 L289.06 468.34 L290.63 468.29 L292.21 468.23 L293.78 468.18 L295.36 468.13 L296.93 468.09 L298.50 468.07 L300.08 468.06 L301.65 468.05 L303.23 468.05 L304.80 468.04 L306.38 468.04 L307.95 468.04 L309.53 468.04 L311.10 468.05 L312.68 468.05 L314.25 468.05 L315.83 468.06 L317.40 468.01 L318.98 467.98 L320.55 467.96 L322.13 467.93 L323.70 467.94 L325.28 467.95 L326.85 467.95 L328.43 467.96 L330.00 467.96 L331.58 467.97 L333.15 467.97 L334.72 467.98 L336.30 467.98 L337.87 467.99 L339.45 467.99 L341.02 468.00 L342.60 468.00 L344.17 468.00 L345.75 468.01 L347.32 467.98 L348.90 467.98 L350.47 467.99 L352.05 467.99 L353.62 467.99 L355.20 467.99 L356.77 468.00 L358.35 468.00 L359.92 468.00 L361.50 468.00 L363.07 468.00 L364.65 468.01 L366.22 468.01 L367.80 468.01 L369.37 468.01 L370.95 468.02 L372.52 468.02 L374.09 467.93 L375.67 467.90 L377.24 467.88 L378.82 467.85 L380.39 467.82 L381.97 467.80 L383.54 467.77 L385.12 467.74 L386.69 467.71 L388.27 467.69 L389.84 467.66 L391.42 467.63 L392.99 467.60 L394.57 467.58 L396.14 467.55 L397.72 467.52 L399.29 467.49 L400.87 467.47 L402.44 467.44 L404.02 467.41 L405.59 467.38 L407.17 467.18 L408.74 467.09 L410.31 467.01 L411.89 466.92 L413.46 466.83 L415.04 466.75 L416.61 466.72 L418.19 466.69 L419.76 466.66 L421.34 466.64 L422.91 466.61 L424.49 466.58 L426.06 466.55 L427.64 466.52 L429.21 466.40 L430.79 466.28 L432.36 466.16 L433.94 466.03 L435.51 465.87 L437.09 465.71 L438.66 465.54 L440.24 465.37 L441.81 465.22 L443.39 465.07 L444.96 464.92 L446.54 464.82 L448.11 464.72 L449.68 464.62 L451.26 464.51 L452.83 464.41 L454.41 464.30 L455.98 464.20 L457.56 464.00 L459.13 463.81 L460.71 463.59 L462.28 463.37 L463.86 463.18 L465.43 463.00 L467.01 462.81 L468.58 462.63 L470.16 462.44 L471.73 462.26 L473.31 461.90 L474.88 461.78 L476.46 461.66 L478.03 461.54 L479.61 461.42 L481.18 461.31 L482.76 461.19 L484.33 461.08 L485.90 460.87 L487.48 460.67 L489.05 460.47 L490.63 460.21 L492.20 460.07 L493.78 459.94 L495.35 459.80 L496.93 459.67 L498.50 459.39 L500.08 459.12 L501.65 458.85 L503.23 458.58 L504.80 458.32 L506.38 457.89 L507.95 457.57 L509.53 457.32 L511.10 457.08 L512.68 456.83 L514.25 456.59 L515.83 456.34 L517.40 456.09 L518.98 455.83 L520.55 455.57 L522.12 455.31 L523.70 454.92 L525.27 454.53 L526.85 454.13 L528.42 453.73 L530.00 453.32 L531.57 452.92 L533.15 452.51 L534.72 452.04 L536.30 451.34 L537.87 450.52 L539.45 449.70 L541.02 448.89 L542.60 448.07 L544.17 446.94 L545.75 445.45 L547.32 443.95 L548.90 442.14 L550.47 440.67 L552.05 439.20 L553.62 437.72 L555.20 436.24 L556.77 434.02 L558.35 431.79 L559.92 429.54 L561.49 427.27 L563.07 423.57 L564.64 420.68 L566.22 417.77 L567.79 414.83 L569.37 411.86 L570.94 408.79 L572.52 405.50 L574.09 402.00 L575.67 398.65 L577.24 395.33 L578.82 392.21 L580.39 389.12 L581.97 386.08 L583.54 382.49 L585.12 379.15 L586.69 375.84 L588.27 372.55 L589.84 369.60 L591.42 366.87 L592.99 364.12 L594.57 361.34 L596.14 358.82 L597.71 356.26 L599.29 353.67 L600.86 351.04 L602.44 348.40 L604.01 345.74 L605.59 342.93 L607.16 340.24 L608.74 337.56 L610.31 334.89 L611.89 332.39 L613.46 330.41 L615.04 328.46 L616.61 326.65 L618.19 324.87 L619.76 323.12 L621.34 321.48 L622.91 319.86 L624.49 318.33 L626.06 316.82 L627.64 315.33 L629.21 313.86 L630.79 312.40 L632.36 310.95 L633.94 309.51 L635.51 308.33 L637.08 307.16 L638.66 305.99 L640.23 305.07 L641.81 304.15 L643.38 303.22 L644.96 302.27 L646.53 301.38 L648.11 300.48 L649.68 299.45 L651.26 298.64 L652.83 297.86 L654.41 297.07 L655.98 296.27 L657.56 295.46 L659.13 294.64 L660.71 293.82 L662.28 292.95 L663.86 292.06 L665.43 291.17 L667.01 290.26 L668.58 289.27 L670.16 288.48 L671.73 287.69 L673.30 286.89 L674.88 286.09 L676.45 285.30 L678.03 284.35 L679.60 283.41 L681.18 282.57 L682.75 281.75 L684.33 280.95 L685.90 280.22 L687.48 279.50 L689.05 278.87 L690.63 278.25 L692.20 277.62 L693.78 276.98 L695.35 276.18 L696.93 275.36 L698.50 274.45 L700.08 273.53 L701.65 272.77 L703.23 272.01 L704.80 271.25 L706.38 270.49 L707.95 269.53 L709.53 268.58 L711.10 267.63 L712.67 266.70 L714.25 265.54 L715.82 264.48 L717.40 263.44 L718.97 262.41 L720.55 261.41 L722.12 260.42 L723.70 259.27 L725.27 258.15 L726.85 257.03 L728.42 255.48 L730.00 253.94 L731.57 252.46 L733.15 250.97 L734.72 249.48 L736.30 247.96 L737.87 246.20 L739.45 244.59 L741.02 242.96 L742.60 241.31 L744.17 239.64 L745.75 237.74 L747.32 235.83 L748.89 233.91 L750.47 231.98 L752.04 230.04 L753.62 228.09 L755.19 226.14 L756.77 224.13 L758.34 222.12 L759.92 220.12 L761.49 217.90 L763.07 215.70 L764.64 213.49 L766.22 211.20 L767.79 208.91 L769.37 206.62 L770.94 203.94 L772.52 201.54 L774.09 199.14 L775.67 196.91 L777.24 194.65 L778.82 192.36 L780.39 190.05 L781.97 187.48 L783.54 184.88 L785.12 182.26 L786.69 179.64 L788.26 176.69 L789.84 173.77 L791.41 170.68 L792.99 168.21 L794.56 165.79 L796.14 163.44 L797.71 161.16 L799.29 158.81 L800.86 156.51 L802.44 154.18 L804.01 151.85 L805.59 149.53 L807.16 147.18 L808.74 144.68 L810.31 142.49 L811.89 140.25 L813.46 138.18 L815.04 136.07 L816.61 133.92 L818.19 131.74 L819.76 128.90 L821.34 126.04 L822.91 123.27 L824.48 120.83 L826.06 118.40 L827.63 116.57 L829.21 114.75 L830.78 112.94 L832.36 111.14 L833.93 109.31 L835.51 107.60 L837.08 105.88 L838.66 104.16 L840.23 102.44 L841.81 100.70 L843.38 98.97 L844.96 97.08 L846.53 95.43 L848.11 93.96 L849.68 92.50 L851.26 91.06 L852.83 89.63 L854.41 88.13 L855.98 86.88 L857.56 85.81 L859.13 84.76 L860.71 83.72 L862.28 82.76 L863.85 81.82 L865.43 80.88 L867.00 79.95 L868.58 79.02 L870.15 77.94 L871.73 77.12 L873.30 76.29 L874.88 75.72 L876.45 75.13 L878.03 74.56 L879.60 73.98 L881.18 73.38 L882.75 72.76 L884.33 72.25 L885.90 71.72 L887.48 71.18 L889.05 70.63 L890.63 70.07 L892.20 69.42 L893.78 68.76 L895.35 68.24 L896.93 67.97 L898.50 67.90" fill="none" stroke="#ff0000" stroke-width="9.5" stroke-linecap="round" stroke-linejoin="round"/><text x="34.4" y="595.5" font-size="15" fill="#000" textLength="714.8" lengthAdjust="spacingAndGlyphs">Σημ.: οι στήλες στο Διάγραμμα 2 εκφράζουν τον αριθμό νέων θανάτων με βάση την ημερομηνία θανάτου</text><text x="52" y="639.5" font-size="15" fill="#000" textLength="1016" lengthAdjust="spacingAndGlyphs">Η ημερομηνία θανάτου αφορά την ημέρα κατά την οποία κατέληξε ο ασθενής και όχι την ημέρα ανακοίνωσης του θανάτου από τον ΕΟΔΥ, όπως καταγράφεται στη βάση δεδομένων.</text></svg></body></html>
